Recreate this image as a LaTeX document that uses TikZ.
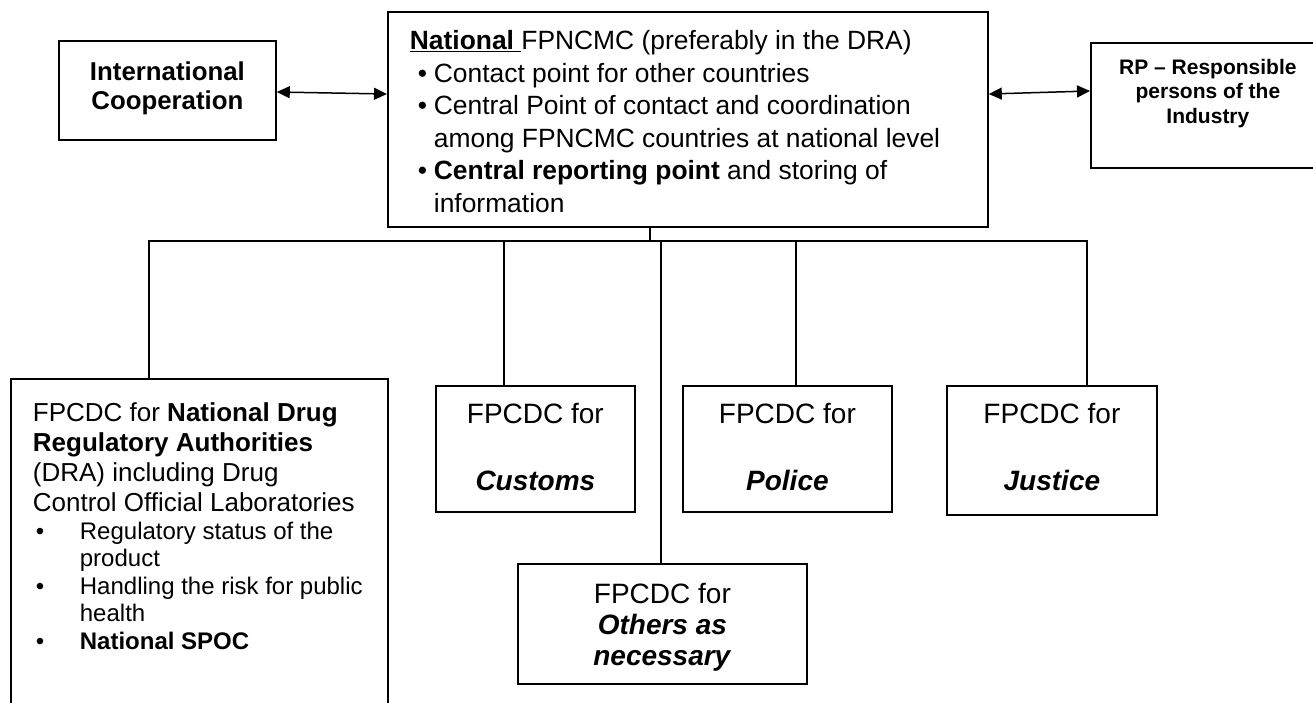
\documentclass[tikz,border=0pt]{standalone}
\usepackage{fontspec}
\setmainfont{Liberation Sans}
\usetikzlibrary{arrows.meta,calc}
\newcommand\bxtext[4]{\begin{minipage}[t][#2][t]{#1}\vspace*{#3}#4\end{minipage}}
\newcommand\mbul[1]{\par\hangindent=24pt\hangafter=1\noindent\makebox[24pt][l]{\hspace{8pt}\textbullet}#1}
\newcommand\dbul[1]{\par\fontsize{24}{27.5}\selectfont\hangindent=47pt\hangafter=1\noindent\makebox[47pt][l]{\hspace{3pt}\textbullet}#1}
\begin{document}
\begin{tikzpicture}[x=1pt,y=-1pt,
  box/.style={draw, line width=1.8pt, anchor=north west, inner ysep=0pt, inner xsep=0pt},
  link/.style={line width=1.5pt},
  biarrow/.style={line width=1.5pt, {Triangle[length=13pt,width=12pt]}-{Triangle[length=13pt,width=12pt]}}]
\useasboundingbox (0,0) rectangle (1313,702);

\node[box, inner xsep=22pt] (main) at (387,11) {\bxtext{556pt}{215pt}{15pt}{\fontsize{26.4}{32.5}\selectfont\raggedright\noindent\strut\underline{\textbf{National~}}FPNCMC (preferably in the DRA)\mbul{Contact point for other countries}\mbul{Central Point of contact and coordination\newline among FPNCMC countries at national level}\mbul{\textbf{Central reporting point} and storing of\newline information}\par}};

\node[box] (intl) at (58,40) {\bxtext{217pt}{99pt}{19pt}{\centering\fontsize{25.8}{29}\selectfont\bfseries\strut International\\Cooperation\par}};

\node[box] (rp) at (1090,42) {\bxtext{234pt}{125pt}{14pt}{\centering\fontsize{21}{24.5}\selectfont\bfseries\strut RP – Responsible\\persons of the\\Industry\par}};

\node[box, inner xsep=22pt] (dra) at (10,378) {\bxtext{333pt}{340pt}{22pt}{\fontsize{26}{30}\selectfont\raggedright\noindent\strut FPCDC for \textbf{National Drug}\\\textbf{Regulatory Authorities}\\(DRA) including Drug\\Control Official Laboratories\dbul{Regulatory status of the\newline product}\dbul{Handling the risk for public\newline health}\dbul{\textbf{National SPOC}}\par}};

\node[box] (customs) at (435,385) {\bxtext{199pt}{126pt}{14.5pt}{\centering\fontsize{28}{33.5}\selectfont\strut FPCDC for\\[33.5pt]\textbf{\textit{Customs}}\par}};
\node[box] (police) at (682,385) {\bxtext{209pt}{126pt}{14.5pt}{\centering\fontsize{28}{33.5}\selectfont\strut FPCDC for\\[33.5pt]\textbf{\textit{Police}}\par}};
\node[box] (justice) at (946,385) {\bxtext{210pt}{129pt}{14.5pt}{\centering\fontsize{28}{33.5}\selectfont\strut FPCDC for\\[33.5pt]\textbf{\textit{Justice}}\par}};
\node[box] (others) at (517,563) {\bxtext{289pt}{120pt}{18pt}{\centering\fontsize{28}{31}\selectfont\strut FPCDC for\\\textbf{\textit{Others as}}\\\textbf{\textit{necessary}}\par}};

\coordinate (hub) at (650,241);
\coordinate (busL) at (149,241);
\coordinate (busR) at (1087,241);
\coordinate (bcu) at (504,241);
\coordinate (bot) at (661,241);
\coordinate (bpo) at (796,241);
\draw[link] (main.south -| hub) -- (hub);
\draw[link] (dra.north -| busL) -- (busL) -- (busR) -- (justice.north -| busR);
\draw[link] (customs.north -| bcu) -- (bcu);
\draw[link] (others.north -| bot) -- (bot);
\draw[link] (police.north -| bpo) -- (bpo);

\coordinate (al1) at (0,92);
\coordinate (al2) at (0,94);
\coordinate (ar1) at (0,94);
\coordinate (ar2) at (0,91);
\draw[biarrow] (intl.east |- al1) -- (main.west |- al2);
\draw[biarrow] (main.east |- ar1) -- (rp.west |- ar2);
\end{tikzpicture}
\end{document}
